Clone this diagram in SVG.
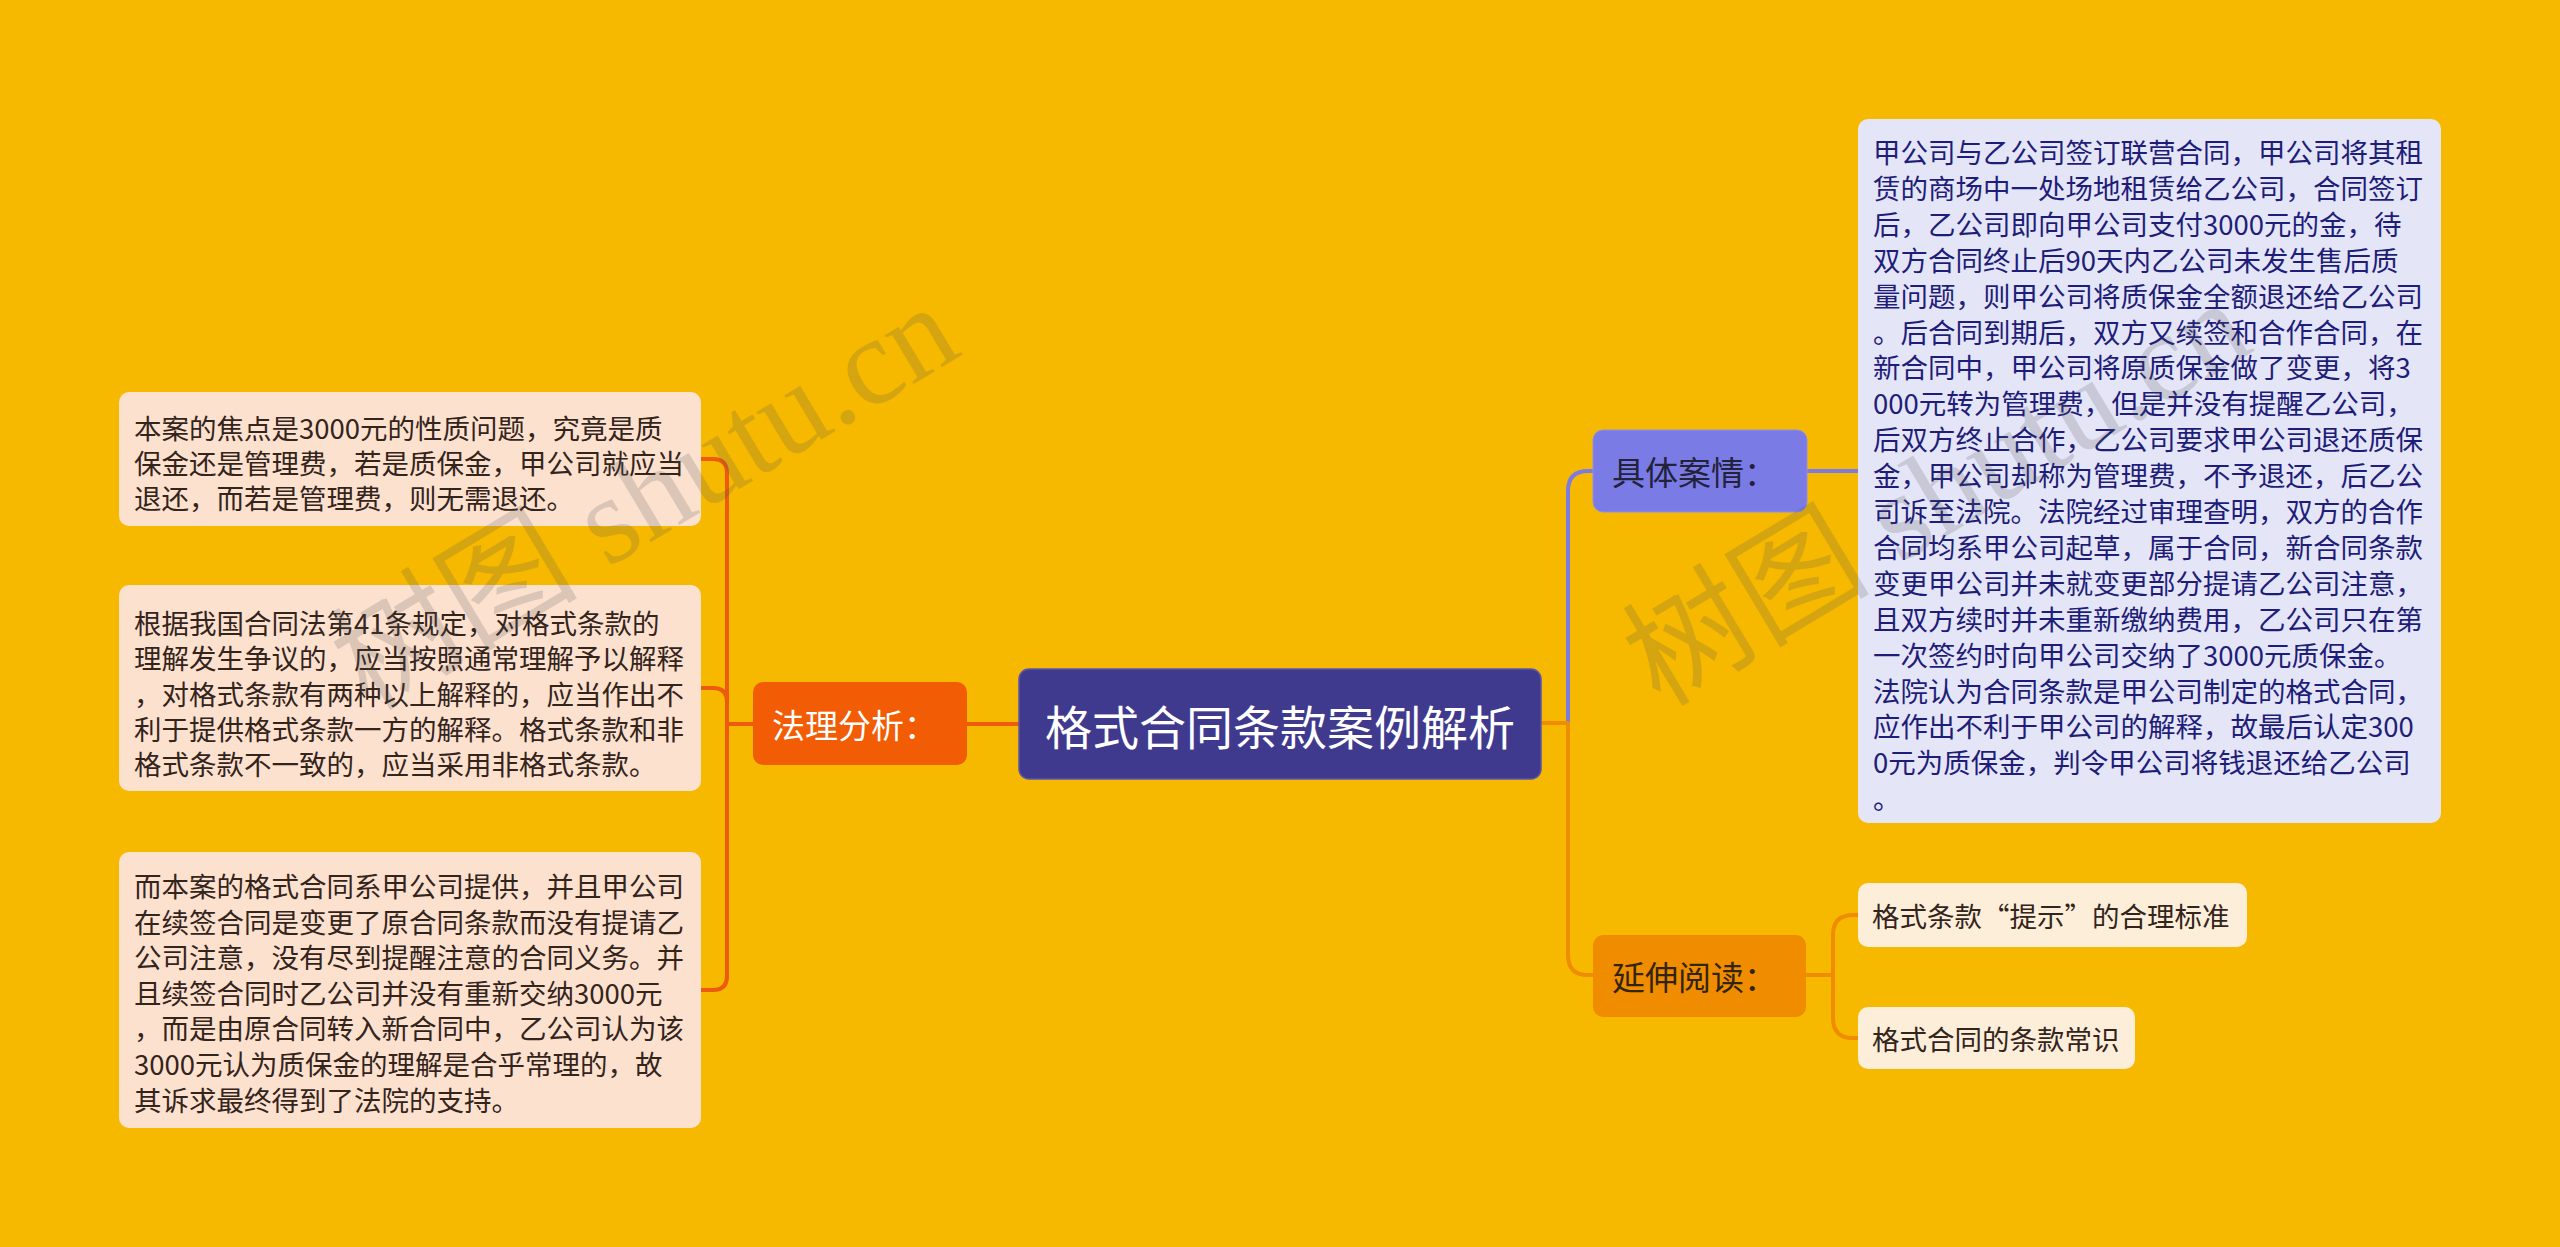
<svg xmlns="http://www.w3.org/2000/svg" width="2560" height="1247" viewBox="0 0 2560 1247">
<style>
  text { font-family: "Noto Sans CJK SC", "Noto Sans", sans-serif; }
  .leaf { font-size: 27.5px; fill: #33241c; dominant-baseline: central; }
  .case { font-size: 27.5px; fill: #1e1e78; dominant-baseline: central; }
  .mid { font-size: 33px; dominant-baseline: central; }
  .conn { fill: none; stroke-width: 4; stroke-linejoin: round; }
  .wm { font-family: "Liberation Serif", "Noto Sans CJK SC", serif; font-size: 124px; fill: #555; fill-opacity: 0.2; }
</style>
<rect x="0" y="0" width="2560" height="1247" fill="#f6b900"/>

<g id="connectors">
  <path class="conn" stroke="#ee5a0f" d="M753,724 H727 V473 Q727,459 713,459 H701"/>
  <path class="conn" stroke="#ee5a0f" d="M753,724 H727 V702 Q727,688 713,688 H701"/>
  <path class="conn" stroke="#ee5a0f" d="M753,724 H727 V976 Q727,990 713,990 H701"/>
  <path class="conn" stroke="#ee5a0f" d="M967,724 H1019"/>
  <path class="conn" stroke="#7b7be2" d="M1541,723 H1568 V491 Q1568,471 1588,471 H1593"/>
  <path class="conn" stroke="#7b7be2" d="M1807,471 H1858"/>
  <path class="conn" stroke="#f08c00" d="M1541,723 H1568 V955 Q1568,975 1588,975 H1593"/>
  <path class="conn" stroke="#f08c00" d="M1806,975 H1833 V935 Q1833,915 1853,915 H1858"/>
  <path class="conn" stroke="#f08c00" d="M1806,975 H1833 V1018 Q1833,1038 1853,1038 H1858"/>
</g>

<g id="root">
  <rect x="1019" y="669" width="522" height="110" rx="10" fill="#3f3a8e" stroke="#5a55a8" stroke-width="1.5"/>
  <text x="1280" y="724" font-size="47" fill="#ffffff" text-anchor="middle" dominant-baseline="central">格式合同条款案例解析</text>
</g>

<g id="n-fali">
  <rect x="753" y="682" width="214" height="83" rx="10" fill="#f25c05"/>
  <text class="mid" x="772" y="724" fill="#ffffff">法理分析：</text>
</g>

<g id="n-jiaodian">
  <rect x="119" y="392" width="582" height="134" rx="10" fill="#fde1cf"/>
  <text class="leaf" x="134">
    <tspan x="134" y="427">本案的焦点是3000元的性质问题，究竟是质</tspan>
    <tspan x="134" y="462">保金还是管理费，若是质保金，甲公司就应当</tspan>
    <tspan x="134" y="497">退还，而若是管理费，则无需退还。</tspan>
  </text>
</g>

<g id="n-hetongfa">
  <rect x="119" y="585" width="582" height="206" rx="10" fill="#fde1cf"/>
  <text class="leaf" x="134">
    <tspan x="134" y="622">根据我国合同法第41条规定，对格式条款的</tspan>
    <tspan x="134" y="657.3">理解发生争议的，应当按照通常理解予以解释</tspan>
    <tspan x="134" y="692.6">，对格式条款有两种以上解释的，应当作出不</tspan>
    <tspan x="134" y="727.9">利于提供格式条款一方的解释。格式条款和非</tspan>
    <tspan x="134" y="763.2">格式条款不一致的，应当采用非格式条款。</tspan>
  </text>
</g>

<g id="n-benan">
  <rect x="119" y="852" width="582" height="276" rx="10" fill="#fde1cf"/>
  <text class="leaf" x="134">
    <tspan x="134" y="885">而本案的格式合同系甲公司提供，并且甲公司</tspan>
    <tspan x="134" y="920.6">在续签合同是变更了原合同条款而没有提请乙</tspan>
    <tspan x="134" y="956.2">公司注意，没有尽到提醒注意的合同义务。并</tspan>
    <tspan x="134" y="991.8">且续签合同时乙公司并没有重新交纳3000元</tspan>
    <tspan x="134" y="1027.4">，而是由原合同转入新合同中，乙公司认为该</tspan>
    <tspan x="134" y="1063">3000元认为质保金的理解是合乎常理的，故</tspan>
    <tspan x="134" y="1098.6">其诉求最终得到了法院的支持。</tspan>
  </text>
</g>

<g id="n-anqing">
  <rect x="1593" y="430" width="214" height="82" rx="10" fill="#7b7be6" stroke="#8e8ef0" stroke-width="1"/>
  <text class="mid" x="1612" y="471" fill="#22223a">具体案情：</text>
</g>

<g id="n-case-text">
  <rect x="1858" y="119" width="583" height="704" rx="10" fill="#e5e5f8"/>
  <text class="case" x="1873">
    <tspan x="1873" y="151">甲公司与乙公司签订联营合同，甲公司将其租</tspan>
    <tspan x="1873" y="186.9">赁的商场中一处场地租赁给乙公司，合同签订</tspan>
    <tspan x="1873" y="222.8">后，乙公司即向甲公司支付3000元的金，待</tspan>
    <tspan x="1873" y="258.7">双方合同终止后90天内乙公司未发生售后质</tspan>
    <tspan x="1873" y="294.6">量问题，则甲公司将质保金全额退还给乙公司</tspan>
    <tspan x="1873" y="330.5">。后合同到期后，双方又续签和合作合同，在</tspan>
    <tspan x="1873" y="366.4">新合同中，甲公司将原质保金做了变更，将3</tspan>
    <tspan x="1873" y="402.3">000元转为管理费，但是并没有提醒乙公司，</tspan>
    <tspan x="1873" y="438.2">后双方终止合作，乙公司要求甲公司退还质保</tspan>
    <tspan x="1873" y="474.1">金，甲公司却称为管理费，不予退还，后乙公</tspan>
    <tspan x="1873" y="510">司诉至法院。法院经过审理查明，双方的合作</tspan>
    <tspan x="1873" y="545.9">合同均系甲公司起草，属于合同，新合同条款</tspan>
    <tspan x="1873" y="581.8">变更甲公司并未就变更部分提请乙公司注意，</tspan>
    <tspan x="1873" y="617.7">且双方续时并未重新缴纳费用，乙公司只在第</tspan>
    <tspan x="1873" y="653.6">一次签约时向甲公司交纳了3000元质保金。</tspan>
    <tspan x="1873" y="689.5">法院认为合同条款是甲公司制定的格式合同，</tspan>
    <tspan x="1873" y="725.4">应作出不利于甲公司的解释，故最后认定300</tspan>
    <tspan x="1873" y="761.3">0元为质保金，判令甲公司将钱退还给乙公司</tspan>
    <tspan x="1873" y="797.2">。</tspan>
  </text>
</g>

<g id="n-yanshen">
  <rect x="1593" y="935" width="213" height="82" rx="10" fill="#f08c00"/>
  <text class="mid" x="1612" y="976" fill="#33240f">延伸阅读：</text>
</g>

<g id="n-tishi">
  <rect x="1858" y="883" width="389" height="64" rx="10" fill="#fdeed9"/>
  <text class="leaf" x="1872" y="915" fill="#2b2b2b">格式条款“提示”的合理标准</text>
</g>

<g id="n-changshi">
  <rect x="1858" y="1007" width="277" height="62" rx="10" fill="#fdeed9"/>
  <text class="leaf" x="1872" y="1038" fill="#2b2b2b">格式合同的条款常识</text>
</g>

<g id="watermarks">
  <text class="wm" transform="translate(368,712) rotate(-31)">树图 shutu.cn</text>
  <text class="wm" transform="translate(1660,708) rotate(-31)">树图 shutu.cn</text>
</g>
</svg>
